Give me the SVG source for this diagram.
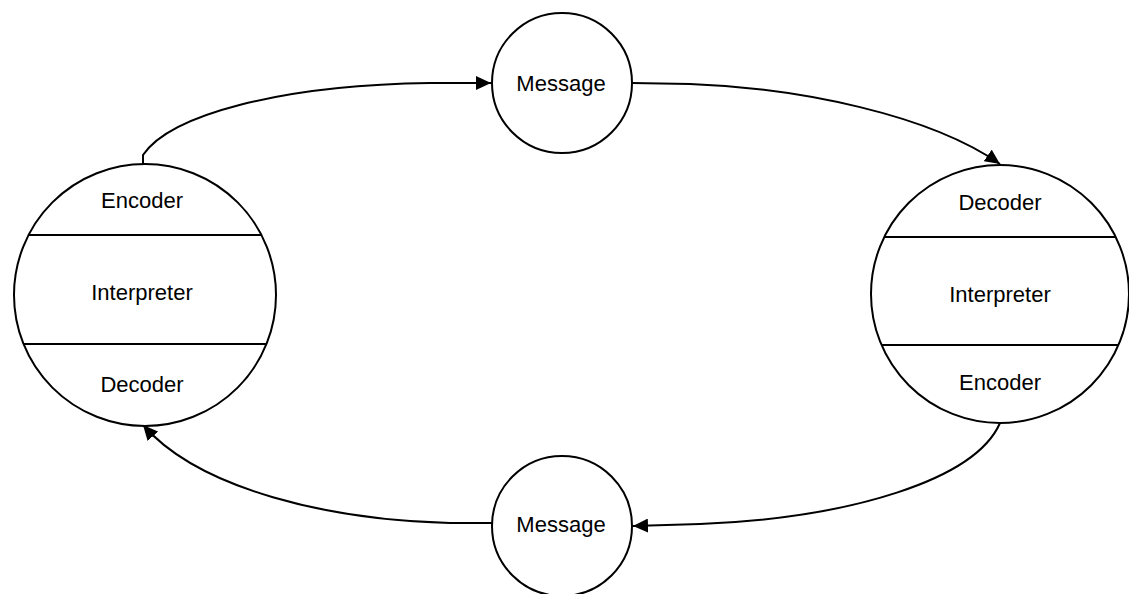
<svg xmlns="http://www.w3.org/2000/svg" width="1129" height="594" viewBox="0 0 1129 594">
<style>
.node{fill:#fff;stroke:#000;stroke-width:2}
.div{stroke:#000;stroke-width:2}
.lbl{font-family:"Liberation Sans",Arial,sans-serif;font-size:22px;fill:#000;text-anchor:middle}
.conn{fill:none;stroke:#000;stroke-width:2}
</style>
<defs>
<marker id="arr" markerUnits="userSpaceOnUse" markerWidth="16" markerHeight="14" refX="15" refY="7" orient="auto">
<path d="M0,0 L15,7 L0,14 Z" fill="#000"/>
</marker>
</defs>
<rect width="1129" height="594" fill="#fff"/>
<g id="connectors">
<path class="conn" d="M143,164 L143,155 C170,115 280,85 430,83 L491,83" marker-end="url(#arr)"/>
<path class="conn" d="M632,83 L690,84 C800,88 930,115 1000,164" marker-end="url(#arr)"/>
<path class="conn" d="M1000,423 C975,480 850,518 700,524 L633,526" marker-end="url(#arr)"/>
<path class="conn" d="M492,523 L450,523 C330,520 200,490 143,425" marker-end="url(#arr)"/>
</g>
<g id="left-party">
<circle class="node" cx="145" cy="295" r="131"/>
<line class="div" x1="28" y1="235" x2="262" y2="235"/>
<line class="div" x1="24" y1="344" x2="266" y2="344"/>
<text class="lbl" x="142" y="208">Encoder</text>
<text class="lbl" x="142" y="300">Interpreter</text>
<text class="lbl" x="142" y="392">Decoder</text>
</g>
<g id="right-party">
<circle class="node" cx="1000" cy="294" r="129"/>
<line class="div" x1="884" y1="237" x2="1116" y2="237"/>
<line class="div" x1="881" y1="345" x2="1119" y2="345"/>
<text class="lbl" x="1000" y="210">Decoder</text>
<text class="lbl" x="1000" y="302">Interpreter</text>
<text class="lbl" x="1000" y="390">Encoder</text>
</g>
<g id="message-top">
<circle class="node" cx="562" cy="83" r="70"/>
<text class="lbl" x="561" y="91">Message</text>
</g>
<g id="message-bottom">
<circle class="node" cx="562" cy="526" r="70"/>
<text class="lbl" x="561" y="532">Message</text>
</g>
</svg>
